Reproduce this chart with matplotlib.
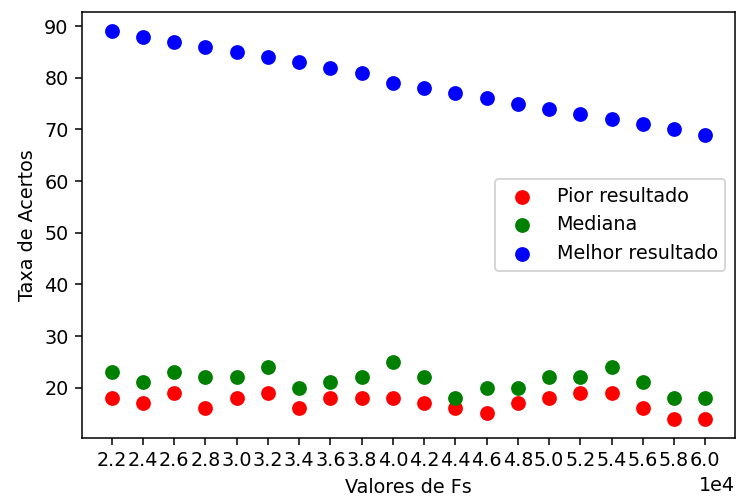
import numpy as np
import matplotlib
matplotlib.use("Agg")
import matplotlib.pyplot as plt

# Fs values (x axis) and results for each Fs
fs = [22000, 24000, 26000, 28000, 30000, 32000, 34000, 36000, 38000, 40000,
      42000, 44000, 46000, 48000, 50000, 52000, 54000, 56000, 58000, 60000]
pior = [18, 17, 19, 16, 18, 19, 16, 18, 18, 18,
        17, 16, 15, 17, 18, 19, 19, 16, 14, 14]
mediana = [23, 21, 23, 22, 22, 24, 20, 21, 22, 25,
           22, 18, 20, 20, 22, 22, 24, 21, 18, 18]
melhor = [89, 88, 87, 86, 85, 84, 83, 82, 81, 79,
          78, 77, 76, 75, 74, 73, 72, 71, 70, 69]

DPI = 138
fig = plt.figure(figsize=(736 / DPI, 497 / DPI), dpi=DPI)
ax = fig.add_axes([82 / 736, 1 - 438 / 497, 653 / 736, 426 / 497])

ax.scatter(fs, pior, color="red", s=45, label="Pior resultado")
ax.scatter(fs, mediana, color="green", s=45, label="Mediana")
ax.scatter(fs, melhor, color="blue", s=45, label="Melhor resultado")

ax.set_xticks(fs)
ax.ticklabel_format(axis="x", style="sci", scilimits=(0, 0))
ax.set_xlabel("Valores de Fs")
ax.set_ylabel("Taxa de Acertos")
ax.legend(loc="center right")

fig.savefig("out.png", dpi=DPI)
